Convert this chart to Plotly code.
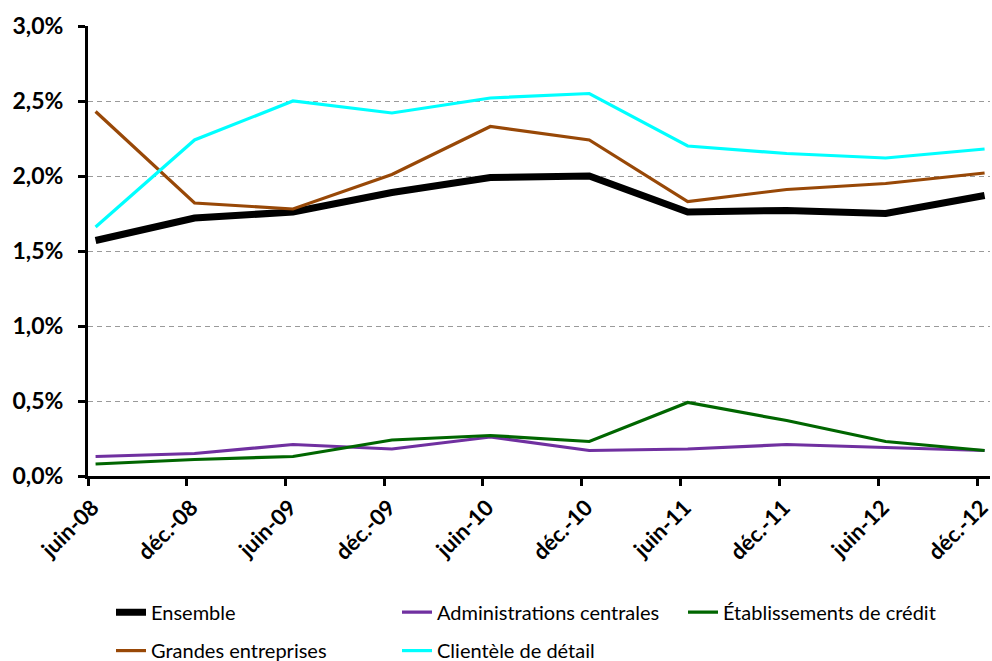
import plotly.graph_objects as go

# Observation dates (mid-semester) and their axis labels
dates = ["2008-06-15", "2008-12-15", "2009-06-15", "2009-12-15", "2010-06-15",
         "2010-12-15", "2011-06-15", "2011-12-15", "2012-06-15", "2012-12-15"]
labels = ["juin-08", "déc.-08", "juin-09", "déc.-09", "juin-10",
          "déc.-10", "juin-11", "déc.-11", "juin-12", "déc.-12"]

# Rates in percent
ensemble = [1.57, 1.72, 1.76, 1.89, 1.99, 2.00, 1.76, 1.77, 1.75, 1.87]
administrations = [0.13, 0.15, 0.21, 0.18, 0.26, 0.17, 0.18, 0.21, 0.19, 0.17]
etablissements = [0.08, 0.11, 0.13, 0.24, 0.27, 0.23, 0.49, 0.37, 0.23, 0.17]
grandes = [2.43, 1.82, 1.78, 2.01, 2.33, 2.24, 1.83, 1.91, 1.95, 2.02]
clientele = [1.66, 2.24, 2.50, 2.42, 2.52, 2.55, 2.20, 2.15, 2.12, 2.18]

y_ticks = [0, 0.5, 1.0, 1.5, 2.0, 2.5, 3.0]
y_tick_text = [f"{v:.1f}".replace(".", ",") + "%" for v in y_ticks]

FONT = "Lato"

series = [
    ("Ensemble", ensemble, "#000000", 7, "legend"),
    ("Administrations centrales", administrations, "#7030A0", 3.2, "legend"),
    ("Établissements de crédit", etablissements, "#006600", 3.2, "legend"),
    ("Grandes entreprises", grandes, "#984807", 3.2, "legend2"),
    ("Clientèle de détail", clientele, "#00FFFF", 3.2, "legend2"),
]

fig = go.Figure()
for name, vals, color, width, leg in series:
    fig.add_trace(go.Scatter(
        x=dates, y=vals, name=name, mode="lines",
        line=dict(color=color, width=width),
        legend=leg,
    ))

legend_style = dict(
    orientation="h", x=0.0255, xanchor="left", yanchor="middle",
    entrywidth=241, entrywidthmode="pixels",
    font=dict(family=FONT, size=20, color="black"),
    bgcolor="rgba(0,0,0,0)",
)

fig.update_layout(
    width=992, height=661,
    margin=dict(l=88, r=2, t=26, b=185, autoexpand=False),
    paper_bgcolor="white", plot_bgcolor="white",
    font=dict(family=FONT, color="black"),
    showlegend=True,
    legend=dict(legend_style, y=-0.3026),
    legend2=dict(legend_style, y=-0.3880),
)

fig.update_xaxes(
    type="date",
    range=["2008-06-01", "2012-12-25"],
    tickmode="array", tickvals=dates, ticktext=labels,
    ticks="", tickangle=-45, ticklabeloverflow="allow",
    ticklabelstandoff=7, ticklabelshift=-3,
    tickfont=dict(family=FONT, size=22, color="black", weight="bold"),
    showgrid=False, zeroline=False,
    showline=True, linecolor="black", linewidth=3,
    minor=dict(ticks="outside", tickmode="linear", tick0="2008-06-01", dtick="M6",
               ticklen=7, tickwidth=3, tickcolor="black", showgrid=False),
)

fig.update_yaxes(
    range=[0, 3.0],
    tickmode="array", tickvals=y_ticks, ticktext=y_tick_text,
    ticks="outside", ticklen=7, tickwidth=3, tickcolor="black",
    ticklabelstandoff=10,
    tickfont=dict(family=FONT, size=23, color="black", weight="bold"),
    showgrid=True, gridcolor="#9a9a9a", gridwidth=1, griddash="5px,4px",
    zeroline=False,
    showline=True, linecolor="black", linewidth=3,
)

fig.write_html("out.html")
